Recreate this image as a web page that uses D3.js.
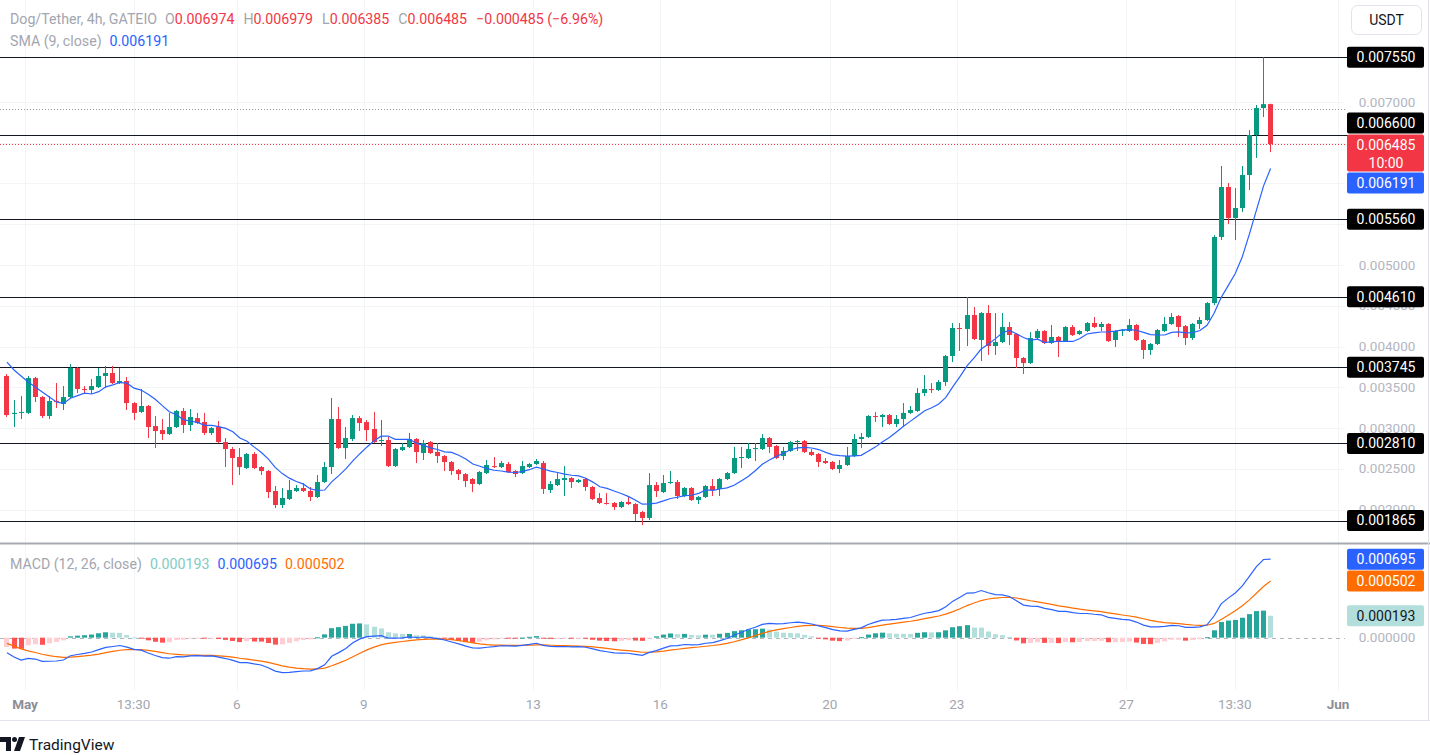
<!DOCTYPE html>
<html><head><meta charset="utf-8">
<script src="https://cdn.jsdelivr.net/npm/d3@7"></script>
<style>
html,body{margin:0;padding:0;background:#fff;}
svg{display:block;font-family:Roboto,"Noto Sans",sans-serif;}
</style></head><body>
<svg id="chart" width="1430" height="755"></svg>
<script>
// Prices in units of 0.000001 USDT, 4h candles, first candle Apr 30 13:30
const UNIT = 1e-6;
const opens = [3638,3172,3185,3185,3613,3380,3147,3331,3294,3380,
3736,3478,3466,3503,3638,3675,3552,3577,3306,3197,
3270,3024,2975,2926,3012,3209,3037,3122,3073,2939,
3012,2828,2742,2644,2509,2681,2521,2472,2227,2055,
2129,2227,2264,2227,2153,2337,2521,3110,2754,2865,
3122,3073,2988,2840,2853,2533,2730,2766,2865,2693,
2828,2706,2656,2583,2484,2435,2374,2313,2447,2533,
2521,2558,2472,2447,2521,2558,2570,2239,2300,2362,
2386,2337,2374,2276,2141,2080,2080,2030,2092,2067,
1969,1896,2300,2214,2325,2337,2165,2264,2116,2153,
2288,2252,2374,2447,2632,2632,2742,2742,2877,2779,
2656,2718,2828,2840,2706,2681,2595,2583,2497,2546,
2656,2865,2890,3147,3135,3159,3049,3110,3185,3209,
3429,3478,3466,3564,3883,4227,4215,4386,4080,4411,
4006,4055,4239,4153,3859,3797,4104,4190,4043,4117,
4067,4239,4153,4190,4288,4239,4276,4080,4190,4190,
4264,4080,3957,4031,4190,4276,4374,4251,4104,4276,
4325,4533,5344,5957,5577,5699,6104,6595,6926,6974];
const highs = [3662,3343,3392,3638,3626,3392,3392,3552,3515,3785,
3750,3515,3601,3736,3761,3761,3736,3626,3318,3478,
3282,3147,3110,3185,3221,3245,3233,3185,3185,3012,
3086,2877,2766,2754,2693,2705,2533,2484,2288,2263,
2362,2300,2325,2276,2423,2583,3368,3258,3012,3159,
3147,3098,3197,3098,2890,2754,2816,2939,2877,2853,
2840,2816,2668,2595,2497,2447,2386,2472,2607,2644,
2595,2583,2484,2595,2570,2619,2595,2349,2447,2533,
2398,2374,2386,2288,2202,2202,2092,2104,2153,2080,
1982,2447,2337,2423,2472,2362,2276,2276,2165,2300,
2374,2386,2460,2767,2767,2816,2816,2926,2890,2791,
2767,2840,2853,2853,2742,2693,2632,2595,2607,2767,
2926,2939,3159,3197,3172,3172,3159,3306,3270,3490,
3650,3552,3589,3896,4288,4288,4607,4484,4423,4509,
4411,4411,4301,4165,3871,4178,4215,4202,4264,4129,
4251,4264,4202,4301,4362,4301,4288,4202,4215,4337,
4276,4092,4043,4215,4362,4411,4386,4264,4288,4362,
4546,5369,6215,6006,5945,6215,6656,6963,7550,6979];
const lows = [3135,3012,3110,3172,3319,3122,3110,3245,3221,3368,
3429,3429,3417,3490,3490,3540,3540,3221,3098,3185,
2877,2754,2853,2914,3000,2939,2963,3049,2914,2914,
2816,2521,2300,2423,2497,2497,2423,2141,2018,2018,
2116,2214,2214,2104,2141,2325,2435,2742,2619,2840,
2963,2840,2816,2779,2521,2521,2718,2754,2570,2607,
2681,2570,2472,2423,2362,2276,2214,2300,2435,2509,
2509,2447,2398,2435,2509,2546,2190,2202,2288,2165,
2264,2325,2227,2116,2067,2060,1994,2018,2055,1859,
1810,1871,2153,2202,2313,2129,2153,2104,2067,2141,
2165,2165,2362,2435,2509,2619,2595,2730,2693,2619,
2607,2706,2718,2693,2656,2521,2558,2484,2447,2533,
2644,2754,2877,3073,3012,3037,3012,3012,3172,3197,
3392,3429,3454,3515,3810,3945,4006,4080,3822,3896,
3896,4043,4018,3736,3662,3785,4092,4030,4030,3871,
4055,4129,4141,4178,4227,4190,4055,3994,4129,4178,
4067,3847,3896,4018,4178,4264,4116,4018,4080,4215,
4313,4509,5307,5503,5307,5650,5920,6313,6816,6385];
const closes = [3159,3185,3197,3613,3380,3147,3331,3319,3380,3736,
3478,3470,3515,3638,3675,3552,3577,3306,3185,3270,
3012,2963,2926,3012,3209,3037,3135,3061,2939,3000,
2828,2742,2632,2521,2681,2509,2472,2214,2055,2141,
2239,2264,2227,2153,2337,2521,3110,2754,2877,3122,
3061,2975,2828,2853,2533,2742,2766,2865,2706,2816,
2693,2656,2583,2472,2435,2349,2313,2460,2546,2521,
2570,2460,2435,2533,2558,2595,2252,2313,2374,2386,
2337,2362,2276,2129,2080,2072,2030,2092,2067,1945,
1896,2300,2227,2325,2337,2165,2264,2116,2153,2288,
2239,2374,2447,2632,2644,2742,2754,2877,2767,2632,
2718,2828,2840,2706,2668,2583,2570,2497,2546,2656,
2865,2890,3147,3135,3159,3049,3110,3185,3221,3429,
3478,3466,3564,3883,4227,4215,4386,4092,4411,4006,
4055,4239,4141,3859,3797,4104,4190,4043,4117,4067,
4239,4141,4190,4288,4239,4276,4067,4190,4202,4264,
4080,3957,4031,4202,4276,4362,4239,4104,4276,4325,
4533,5344,5957,5577,5699,6104,6595,6926,6974,6485];
// SMA(9) values of the first 8 candles (earlier data off-screen)
const smaHead = [3809,3712,3638,3565,3503,3441,3380,3319];
// MACD state before the first visible candle: EMA12, EMA26, signal
const macdSeed = [3900,3980,-30];
const levels = [7550,6600,5560,4610,3745,2810,1865];
const priceTicks = [2000,2500,3000,3500,4000,4500,5000,5500,6000,6500,7000];
const timeTicks = [["May",Date.UTC(2024,4,1),true],["13:30",Date.UTC(2024,4,3,13,30),false],
 ["6",Date.UTC(2024,4,6),false],["9",Date.UTC(2024,4,9),false],["13",Date.UTC(2024,4,13),false],
 ["16",Date.UTC(2024,4,16),false],["20",Date.UTC(2024,4,20),false],["23",Date.UTC(2024,4,23),false],
 ["27",Date.UTC(2024,4,27),false],["13:30",Date.UTC(2024,4,29,13,30),false],["Jun",Date.UTC(2024,5,1),true]];
const legendOHLC = [["O","0.006974"],["H","0.006979"],["L","0.006385"],["C","0.006485"]];
const legendChange = "\u22120.000485 (\u22126.96%)";
const smaLabel = "0.006191";
const macdLabels = ["0.000193","0.000695","0.000502"];
const macdLabelValues = [193,695,502];
const prevLine = 6920;

const svg = d3.select("#chart");
const W = 1430, plotR = 1345;
const GREEN="#089981", RED="#F23645", BLUE="#2962FF", ORANGE="#FF6D00";
const t0 = Date.UTC(2024,3,30,13,30), H4 = 4*3600*1000;
const times = closes.map((d,i)=>t0+i*H4);

const x = d3.scaleUtc().domain([Date.UTC(2024,4,1),Date.UTC(2024,5,1)]).range([25,1338]);
const y = d3.scaleLinear().domain([1589,8251.5]).range([543,0]);
const ym = d3.scaleLinear().domain([-463,820]).range([690,545]);

// indicators
const sma = closes.map((c,i)=> i<8 ? smaHead[i] : d3.mean(closes.slice(i-8,i+1)));
let e12=macdSeed[0], e26=macdSeed[1], sig=macdSeed[2];
const macd=[], signal=[], hist=[];
closes.forEach(c=>{ e12+=(c-e12)*2/13; e26+=(c-e26)*2/27; const m=e12-e26; sig+=(m-sig)*0.2;
  macd.push(m); signal.push(sig); hist.push(m-sig); });

// grid
const grid = svg.append("g");
timeTicks.forEach(t=>{ grid.append("line").attr("x1",Math.round(x(t[1]))+0.5).attr("x2",Math.round(x(t[1]))+0.5)
  .attr("y1",0).attr("y2",690).attr("stroke","#f3f4f6"); });
priceTicks.forEach(p=>{ const yy=Math.round(y(p))+0.5; if(yy<0||yy>543) return;
  grid.append("line").attr("x1",0).attr("x2",plotR).attr("y1",yy).attr("y2",yy).attr("stroke","#f3f4f6"); });

// frame
svg.append("line").attr("x1",0).attr("x2",W).attr("y1",543.5).attr("y2",543.5).attr("stroke","#a7a9b0").attr("stroke-width",2);
svg.append("line").attr("x1",0).attr("x2",W).attr("y1",720.5).attr("y2",720.5).attr("stroke","#e0e3eb");
svg.append("line").attr("x1",1428.5).attr("x2",1428.5).attr("y1",0).attr("y2",720).attr("stroke","#e0e3eb");

// dotted lines
svg.append("line").attr("x1",0).attr("x2",plotR).attr("y1",Math.round(y(prevLine))+0.5).attr("y2",Math.round(y(prevLine))+0.5)
  .attr("stroke","#9598a1").attr("stroke-dasharray","1,2");
svg.append("line").attr("x1",0).attr("x2",plotR).attr("y1",Math.round(y(closes[closes.length-1]))+0.5).attr("y2",Math.round(y(closes[closes.length-1]))+0.5)
  .attr("stroke",RED).attr("stroke-dasharray","1,2");

// level lines
levels.forEach(l=>{ const yy=Math.round(y(l))+0.5;
  svg.append("line").attr("x1",0).attr("x2",1348).attr("y1",yy).attr("y2",yy).attr("stroke","#131722").attr("stroke-width",1); });

// candles
const cg = svg.append("g");
closes.forEach((c,i)=>{
  const xx = Math.round(x(times[i])); const o=opens[i]; const col = c>=o?GREEN:RED;
  cg.append("line").attr("x1",xx+0.5).attr("x2",xx+0.5).attr("y1",y(highs[i])).attr("y2",y(lows[i])).attr("stroke",col).attr("stroke-width",1);
  const top=y(Math.max(o,c)), bot=y(Math.min(o,c));
  cg.append("rect").attr("x",xx-2).attr("y",top).attr("width",5).attr("height",Math.max(1,bot-top)).attr("fill",col);
});
// SMA
svg.append("path").datum(sma).attr("fill","none").attr("stroke",BLUE).attr("stroke-width",1.2)
  .attr("d",d3.line().x((d,i)=>x(times[i])+0.5).y(d=>y(d)));

// MACD pane
svg.append("line").attr("x1",0).attr("x2",plotR).attr("y1",Math.round(ym(0))+0.5).attr("y2",Math.round(ym(0))+0.5)
  .attr("stroke","#b2b5be").attr("stroke-dasharray","4,4");
hist.forEach((h,i)=>{
  const prev = i>0?hist[i-1]:h; let col;
  if(h>=0) col = h>=prev?"#26A69A":"#B2DFDB"; else col = h<prev?"#FF5252":"#FFCDD2";
  const xx=Math.round(x(times[i]));
  const a=ym(0), b=ym(h);
  svg.append("rect").attr("x",xx-2).attr("y",Math.min(a,b)).attr("width",5).attr("height",Math.max(1,Math.abs(b-a))).attr("fill",col);
});
svg.append("path").datum(signal).attr("fill","none").attr("stroke",ORANGE).attr("stroke-width",1.2)
  .attr("d",d3.line().x((d,i)=>x(times[i])+0.5).y(d=>ym(d)));
svg.append("path").datum(macd).attr("fill","none").attr("stroke",BLUE).attr("stroke-width",1.2)
  .attr("d",d3.line().x((d,i)=>x(times[i])+0.5).y(d=>ym(d)));

// label boxes (positions resolved against the current-price box)
const lastC = closes[closes.length-1];
const redTop = y(lastC)-9.5, redBot = y(lastC)+27.5;
function place(v){ let cy=y(v); const h=21;
  if(cy+h/2>redTop && cy-h/2<redBot){ cy = cy < (redTop+redBot)/2 ? redTop-1-h/2 : redBot+1+h/2; }
  return cy; }
const boxCenters = levels.map(l=>place(l)).concat([place(sma[sma.length-1]),(redTop+redBot)/2]);

// price axis tick labels (those fully under a label box are not drawn, as in the reference)
const axisG = svg.append("g").attr("font-size",13.5).attr("fill","#b2b5be").attr("text-anchor","middle");
priceTicks.forEach(p=>{ const yy=y(p); if(yy<75||yy>535) return;
  if(boxCenters.some((c,k)=> k===boxCenters.length-1 ? (yy>redTop-4 && yy<redBot+4) : Math.abs(c-yy)<8)) return;
  axisG.append("text").attr("x",1387).attr("y",yy).attr("dy","0.35em").text((p*UNIT).toFixed(6)); });
axisG.append("text").attr("x",1387).attr("y",ym(0)).attr("dy","0.35em").text("0.000000");

function box(cy,h,fill,txtCol,lines){
  const g=svg.append("g");
  g.append("rect").attr("x",1347).attr("y",cy-h/2).attr("width",77).attr("height",h).attr("rx",2).attr("fill",fill);
  lines.forEach((t,k)=> g.append("text").attr("x",1386).attr("y",cy-h/2+10.5+k*18).attr("dy","0.35em")
    .attr("text-anchor","middle").attr("font-size",14).attr("fill",txtCol).text(t));
}
levels.forEach(l=> box(place(l),21,"#000","#fff",[(l*UNIT).toFixed(6)]));
box((redTop+redBot)/2,redBot-redTop,RED,"#fff",[(lastC*UNIT).toFixed(6),"10:00"]);
box(place(sma[sma.length-1]),21,BLUE,"#fff",[smaLabel]);
// MACD boxes
box(ym(macdLabelValues[1]),21,BLUE,"#fff",[macdLabels[1]]);
box(ym(macdLabelValues[2]),21,ORANGE,"#fff",[macdLabels[2]]);
box(ym(macdLabelValues[0]),21,"#B2DFDB","#131722",[macdLabels[0]]);

// time axis
const tg = svg.append("g").attr("font-size",13.5).attr("text-anchor","middle");
timeTicks.forEach(t=>{ tg.append("text").attr("x",x(t[1])).attr("y",704).attr("dy","0.35em")
  .attr("fill",t[2]?"#8a8d96":"#a3a6af").attr("font-weight",t[2]?"bold":"normal").text(t[0]); });

// legends
const GRAY="#a3a6af";
const l1 = svg.append("text").attr("x",10).attr("y",24).attr("font-size",14.2);
l1.append("tspan").attr("fill",GRAY).text("Dog/Tether, 4h, GATEIO");
legendOHLC.forEach((d,k)=>{ l1.append("tspan").attr("dx",k==0?8:9).attr("fill",GRAY).text(d[0]);
  l1.append("tspan").attr("fill",RED).text(d[1]); });
l1.append("tspan").attr("dx",9).attr("fill",RED).text(legendChange);
const l2 = svg.append("text").attr("x",10).attr("y",46).attr("font-size",14.2);
l2.append("tspan").attr("fill",GRAY).text("SMA (9, close)");
l2.append("tspan").attr("dx",8).attr("fill",BLUE).text(smaLabel);
const l3 = svg.append("text").attr("x",10).attr("y",569).attr("font-size",14.2);
l3.append("tspan").attr("fill",GRAY).text("MACD (12, 26, close)");
l3.append("tspan").attr("dx",8).attr("fill","#80cbc4").text(macdLabels[0]);
l3.append("tspan").attr("dx",8).attr("fill",BLUE).text(macdLabels[1]);
l3.append("tspan").attr("dx",8).attr("fill",ORANGE).text(macdLabels[2]);

// USDT button
svg.append("rect").attr("x",1351.5).attr("y",5.5).attr("width",70).attr("height",29).attr("rx",6).attr("fill","#fff").attr("stroke","#e0e3eb");
svg.append("text").attr("x",1386.5).attr("y",20).attr("dy","0.35em").attr("text-anchor","middle").attr("font-size",14).attr("fill","#131722").text("USDT");

// TradingView logo
const lg = svg.append("g").attr("fill","#131722");
lg.append("path").attr("d","M0,737 H11 V751 H6 V742 H0 Z");
lg.append("circle").attr("cx",14.5).attr("cy",739.5).attr("r",2.5);
lg.append("path").attr("d","M19,737 H25 L20,751 H14 Z");
svg.append("text").attr("x",29).attr("y",745).attr("dy","0.35em").attr("font-size",15.5).attr("fill","#131722").text("TradingView");
</script>
</body></html>
